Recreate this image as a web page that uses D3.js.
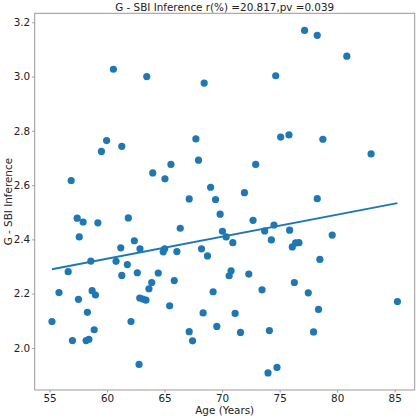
<!DOCTYPE html>
<html>
<head>
<meta charset="utf-8">
<script src="https://cdn.jsdelivr.net/npm/d3@7"></script>
<style>
  html, body { margin: 0; padding: 0; background: #fff; }
  svg { display: block; font-family: "DejaVu Sans", sans-serif; }
</style>
</head>
<body>
<svg id="chart" width="418" height="418"></svg>
<script>
const title = "G - SBI Inference r(%) =20.817,pv =0.039";
const xLabel = "Age (Years)";
const yLabel = "G - SBI Inference";
const xTicks = [55, 60, 65, 70, 75, 80, 85];
const yTicks = [2.0, 2.2, 2.4, 2.6, 2.8, 3.0, 3.2];

const age = [
  55.21, 55.82, 56.62, 56.88, 56.99, 57.40, 57.51, 57.58, 57.92, 58.18,
  58.42, 58.29, 58.59, 58.70, 58.99, 58.88, 59.20, 59.51, 59.96, 60.55,
  60.78, 61.19, 61.28, 61.28, 61.76, 61.85, 62.08, 62.37, 62.63, 62.78,
  62.86, 62.84, 63.10, 63.38, 63.45, 63.64, 63.88, 63.97, 64.45, 65.01,
  64.88, 65.03, 65.44, 65.55, 65.84, 66.07, 66.36, 67.14, 67.14, 67.43,
  67.72, 67.95, 68.21, 68.35, 68.44, 68.73, 69.00, 69.22, 69.43, 69.54,
  69.83, 70.03, 70.35, 70.61, 70.78, 70.93, 71.13, 71.60, 71.94, 72.32,
  72.69, 72.92, 73.47, 73.70, 73.99, 74.11, 74.28, 74.51, 74.66, 74.77,
  75.09, 75.81, 75.87, 76.10, 76.28, 76.39, 76.68, 77.17, 77.49, 77.95,
  78.27, 78.27, 78.38, 78.50, 78.76, 79.57, 80.84, 82.95, 85.24
];
const sbi = [
  2.097, 2.204, 2.281, 2.617, 2.027, 2.478, 2.179, 2.409, 2.464, 2.027,
  2.032, 2.131, 2.320, 2.211, 2.195, 2.067, 2.461, 2.724, 2.764, 3.027,
  2.319, 2.369, 2.743, 2.267, 2.307, 2.479, 2.097, 2.395, 2.277, 1.939,
  2.365, 2.184, 2.180, 2.176, 3.000, 2.218, 2.241, 2.645, 2.276, 2.365,
  2.354, 2.623, 2.155, 2.676, 2.248, 2.355, 2.441, 2.549, 2.060, 2.026,
  2.770, 2.692, 2.365, 2.129, 2.976, 2.339, 2.592, 2.207, 2.547, 2.079,
  2.493, 2.430, 2.409, 2.266, 2.284, 2.388, 2.127, 2.057, 2.572, 2.272,
  2.470, 2.676, 2.214, 2.431, 1.908, 2.064, 2.398, 2.453, 3.003, 1.928,
  2.777, 2.785, 2.434, 2.372, 2.241, 2.387, 2.388, 3.170, 2.203, 2.059,
  3.152, 2.550, 2.142, 2.326, 2.769, 2.416, 3.075, 2.715, 2.171
];

const color = "#1f77b4";
const svg = d3.select("#chart");
const m = { left: 34.7, right: 414.7, top: 13.3, bottom: 390 };

function padded(arr) {
  const [lo, hi] = d3.extent(arr);
  const p = (hi - lo) * 0.05;
  return [lo - p, hi + p];
}

const x = d3.scaleLinear().domain(padded(age)).range([m.left, m.right]);
const y = d3.scaleLinear().domain(padded(sbi)).range([m.bottom, m.top]);

// least squares fit
const mx = d3.mean(age), my = d3.mean(sbi);
let sxy = 0, sxx = 0;
age.forEach((a, i) => { sxy += (a - mx) * (sbi[i] - my); sxx += (a - mx) * (a - mx); });
const slope = sxy / sxx, intercept = my - slope * mx;
const [xmin, xmax] = d3.extent(age);

// points
svg.append("g").selectAll("circle")
  .data(age.map((a, i) => [a, sbi[i]]))
  .join("circle")
  .attr("cx", d => x(d[0]))
  .attr("cy", d => y(d[1]))
  .attr("r", 3.6)
  .attr("fill", color);

// regression line
svg.append("path")
  .datum([xmin, xmax])
  .attr("d", d3.line().x(d => x(d)).y(d => y(intercept + slope * d)))
  .attr("stroke", color)
  .attr("stroke-width", 2)
  .attr("fill", "none");

// axes
const xAxis = svg.append("g")
  .attr("transform", `translate(0,${m.bottom})`)
  .call(d3.axisBottom(x).tickValues(xTicks).tickSize(2.5).tickPadding(2).tickFormat(d3.format("d")));
const yAxis = svg.append("g")
  .attr("transform", `translate(${m.left},0)`)
  .call(d3.axisLeft(y).tickValues(yTicks).tickSize(2.5).tickPadding(2).tickFormat(d3.format(".1f")));

[xAxis, yAxis].forEach(g => {
  g.select(".domain").remove();
  g.selectAll(".tick line").attr("stroke", "#999");
  g.selectAll(".tick text").attr("fill", "#222").style("font-size", "10.4px").style("font-family", "DejaVu Sans");
});

// frame
svg.append("rect")
  .attr("x", m.left).attr("y", m.top)
  .attr("width", m.right - m.left).attr("height", m.bottom - m.top)
  .attr("fill", "none").attr("stroke", "#999").attr("stroke-width", 1);

// title & labels
svg.append("text")
  .attr("x", (m.left + m.right) / 2).attr("y", 10.6)
  .attr("text-anchor", "middle").attr("fill", "#222")
  .style("font-size", "10.4px").text(title);

svg.append("text")
  .attr("x", (m.left + m.right) / 2).attr("y", 413.8)
  .attr("text-anchor", "middle").attr("fill", "#222")
  .style("font-size", "10.4px").text(xLabel);

svg.append("text")
  .attr("transform", `translate(11.5,${(m.top + m.bottom) / 2}) rotate(-90)`)
  .attr("text-anchor", "middle").attr("fill", "#222")
  .style("font-size", "10.4px").text(yLabel);
</script>
</body>
</html>
